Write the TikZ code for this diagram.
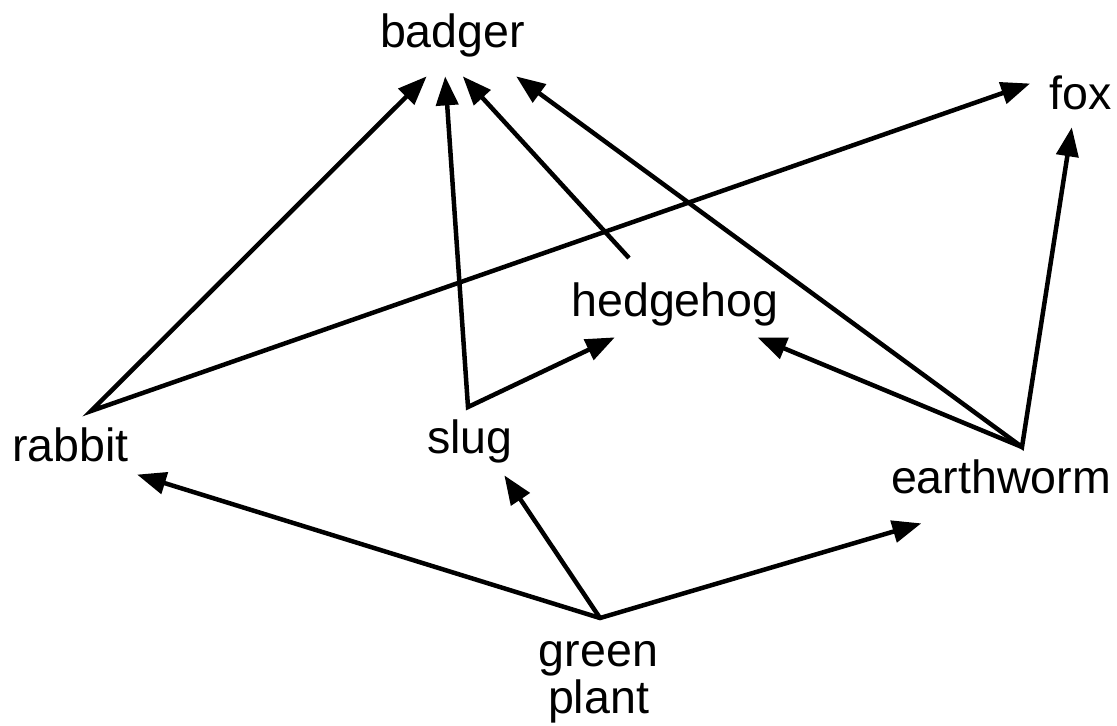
\documentclass[tikz,border=0pt]{standalone}
\usepackage{fontspec}
\setmainfont{Liberation Sans}
\usetikzlibrary{arrows.meta}
\usetikzlibrary{positioning}

\tikzset{organism/.style={font=\fontsize{26.5}{26.2}\selectfont,inner sep=0pt,anchor=base}}
\tikzset{animal/.style={organism,text height=0.68cm,text depth=0.2cm}}
\tikzset{feeds/.style={line width=0.09cm,line join=miter}}

\begin{document}
\begin{tikzpicture}[x=0.02cm,y=-0.02cm,>={Triangle[length=0.58cm,width=0.44cm]}]
	\useasboundingbox (0,0) rectangle (1117,725);
	\node[animal,inner ysep=0.38cm] (badger) at (452.5,47) {badger};
	\node[animal,inner xsep=0.38cm,inner ysep=0.16cm] (fox) at (1080.5,109) {fox};
	\node[animal,inner ysep=0.22cm] (hedgehog) at (675,316) {hedgehog};
	\node[animal,inner xsep=0.16cm,inner ysep=0.1cm] (rabbit) at (70.5,461) {rabbit};
	\node[animal,inner ysep=0.24cm] (slug) at (470,453) {slug};
	\node[animal,inner ysep=0.4cm] (earthworm) at (1001,493) {earthworm};
	\node[organism,align=center] (plant) at (598.5,713) {green\\plant};
	
	\coordinate (rabbit-hub) at ([xshift=0.41cm,yshift=1cm]rabbit.base);
	\coordinate (slug-hub) at ([xshift=-0.04cm,yshift=0.92cm]slug.base);
	\coordinate (hedgehog-hub) at ([xshift=-0.92cm,yshift=1.16cm]hedgehog.base);
	\coordinate (earthworm-hub) at ([xshift=0.42cm,yshift=0.92cm]earthworm.base);
	\coordinate (plant-hub) at ([xshift=0.03cm,yshift=1.9cm]plant.base);
	
	\draw[feeds,<->] (badger.238) -- (rabbit-hub) -- (fox.165);
	\draw[feeds,<->] (badger.260) -- (slug-hub) -- (hedgehog.209);
	\draw[feeds,->] (hedgehog-hub) -- (badger.284);
	\draw[feeds,<->] (badger.327) -- (earthworm-hub) -- (fox.254);
	\draw[feeds,->] (earthworm-hub) -- (hedgehog.338);
	\draw[feeds,<->] (rabbit.339) -- (plant-hub) -- (earthworm.208);
	\draw[feeds,->] (plant-hub) -- (slug.315);
\end{tikzpicture}
\end{document}
